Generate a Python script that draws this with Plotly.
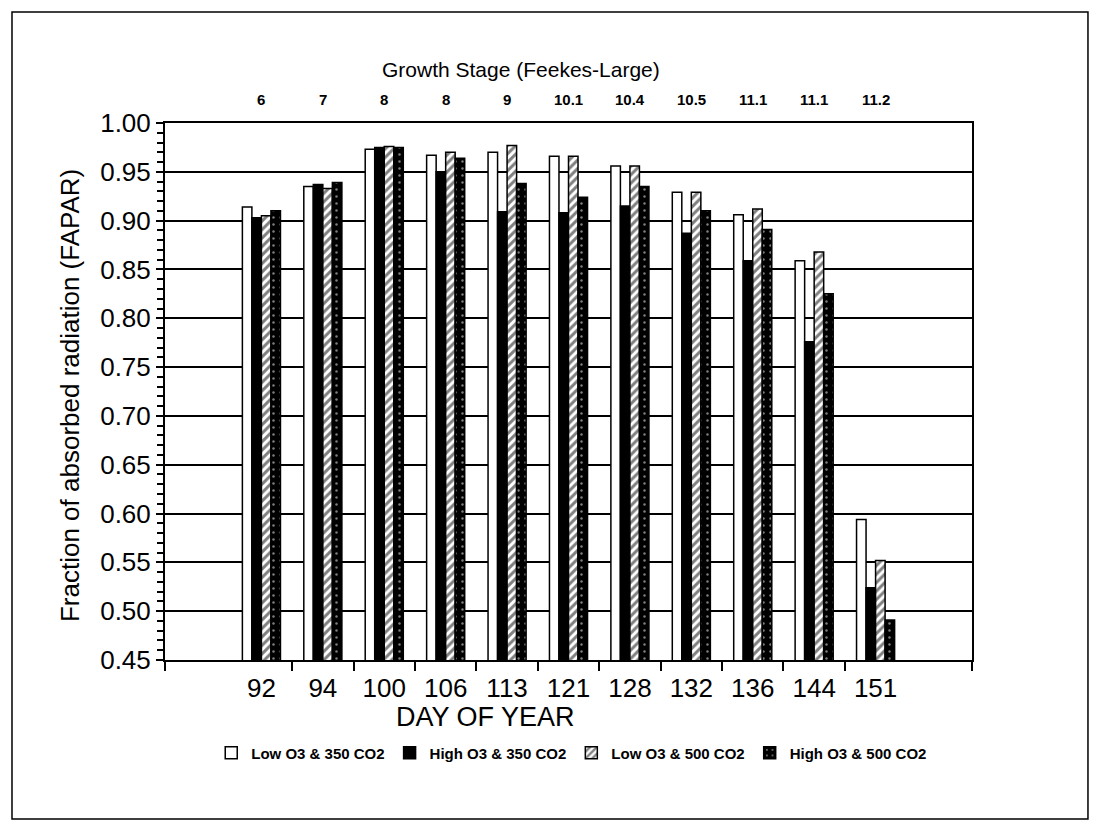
import plotly.graph_objects as go

days = ["92", "94", "100", "106", "113", "121", "128", "132", "136", "144", "151"]
stages = ["6", "7", "8", "8", "9", "10.1", "10.4", "10.5", "11.1", "11.1", "11.2"]

low_o3_350 = [0.914, 0.935, 0.973, 0.967, 0.970, 0.966, 0.956, 0.929, 0.906, 0.859, 0.594]
high_o3_350 = [0.903, 0.937, 0.975, 0.950, 0.909, 0.908, 0.915, 0.887, 0.859, 0.776, 0.524]
low_o3_500 = [0.905, 0.933, 0.976, 0.970, 0.977, 0.966, 0.956, 0.929, 0.912, 0.868, 0.552]
high_o3_500 = [0.910, 0.939, 0.975, 0.964, 0.938, 0.924, 0.935, 0.910, 0.891, 0.825, 0.491]

series_names = ["Low O3 & 350 CO2", "High O3 & 350 CO2", "Low O3 & 500 CO2", "High O3 & 500 CO2"]

FONT = "Liberation Sans, Arial, Helvetica, sans-serif"
xpos = list(range(len(days)))

fig = go.Figure()
fig.add_trace(go.Bar(
    x=xpos, y=low_o3_350, name=series_names[0],
    marker=dict(color="white", line=dict(color="black", width=1.5)),
))
fig.add_trace(go.Bar(
    x=xpos, y=high_o3_350, name=series_names[1],
    marker=dict(color="black", line=dict(color="black", width=1.5)),
))
fig.add_trace(go.Bar(
    x=xpos, y=low_o3_500, name=series_names[2],
    marker=dict(color="white", line=dict(color="black", width=1.5),
                pattern=dict(shape="/", fgcolor="black", bgcolor="white", size=6, solidity=0.5)),
))
fig.add_trace(go.Bar(
    x=xpos, y=high_o3_500, name=series_names[3],
    marker=dict(color="black", line=dict(color="black", width=1.5),
                pattern=dict(shape=".", fgcolor="white", bgcolor="black", size=7, solidity=0.1)),
))

annotations = []
for i, s in enumerate(stages):
    annotations.append(dict(x=i, y=1.043, xref="x", yref="paper", text=s, showarrow=False,
                            font=dict(family=FONT, size=15, color="black", weight="bold"),
                            xanchor="center", yanchor="middle"))
annotations.append(dict(x=0.441, y=1.099, xref="paper", yref="paper",
                        text="Growth Stage (Feekes-Large)", showarrow=False,
                        font=dict(family=FONT, size=21, color="black"),
                        xanchor="center", yanchor="middle"))
annotations.append(dict(x=0.397, y=-0.106, xref="paper", yref="paper",
                        text="DAY OF YEAR", showarrow=False,
                        font=dict(family=FONT, size=27, color="black"),
                        xanchor="center", yanchor="middle"))
annotations.append(dict(x=-0.118, y=0.493, xref="paper", yref="paper",
                        text="Fraction of absorbed radiation (FAPAR)", showarrow=False,
                        textangle=-90,
                        font=dict(family=FONT, size=26, color="black"),
                        xanchor="center", yanchor="middle"))

fig.update_layout(
    width=1100, height=822,
    margin=dict(l=157, r=136, t=115, b=170),
    paper_bgcolor="white", plot_bgcolor="white",
    barmode="group", bargap=0.38, bargroupgap=0.0,
    font=dict(family=FONT, color="black"),
    showlegend=True,
    legend=dict(orientation="h", x=0.504, y=-0.173, xanchor="center", yanchor="middle",
                font=dict(family=FONT, size=15, color="black", weight="bold"),
                itemwidth=30, bgcolor="rgba(0,0,0,0)"),
    annotations=annotations,
    shapes=[dict(type="rect", xref="paper", yref="paper",
                 x0=-0.1896, x1=1.1437, y0=-0.296, y1=1.2067,
                 line=dict(color="black", width=1.5), fillcolor="rgba(0,0,0,0)", layer="below")],
)

fig.update_xaxes(
    range=[-1.57, 11.57],
    tickmode="array", tickvals=xpos, ticktext=days, ticks="",
    tickfont=dict(family=FONT, size=26, color="black"),
    ticklabelstandoff=4,
    showline=True, linecolor="black", linewidth=2, mirror=True,
    showgrid=False, zeroline=False,
    minor=dict(tickmode="array", tickvals=[i + 0.5 for i in range(10)] + [-1.57, 11.57],
               ticks="outside", ticklen=9, tickwidth=2, tickcolor="black", showgrid=False),
)
fig.update_yaxes(
    range=[0.45, 1.0],
    tickmode="array", tickvals=[round(0.45 + 0.05 * i, 2) for i in range(12)],
    ticktext=["%.2f" % (0.45 + 0.05 * i) for i in range(12)],
    ticks="outside", ticklen=7, tickwidth=2, tickcolor="black",
    tickfont=dict(family=FONT, size=26, color="black"),
    showline=True, linecolor="black", linewidth=2, mirror=True,
    showgrid=True, gridcolor="black", gridwidth=1.5, zeroline=False,
    minor=dict(dtick=0.01, tick0=0.45, ticks="outside", ticklen=6, tickwidth=1.5,
               tickcolor="black", showgrid=False),
)

fig.write_html("out.html")
